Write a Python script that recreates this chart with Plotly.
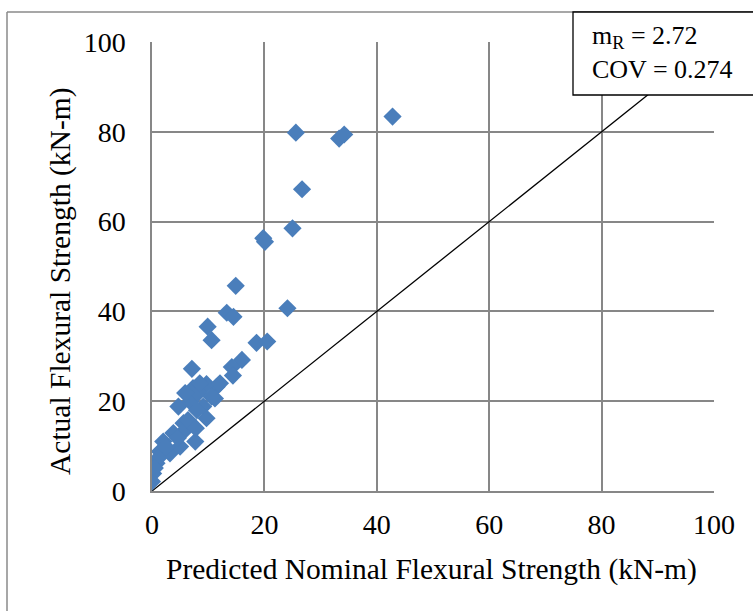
import plotly.graph_objects as go

# Predicted nominal vs. actual flexural strength (kN-m)
predicted = [42.8, 25.6, 33.3, 34.2, 26.7, 25.0, 19.8, 20.1, 14.9, 24.1,
             13.3, 14.5, 9.9, 10.6, 18.6, 20.5, 16.0, 14.2, 14.4, 7.1,
             11.5, 9.7, 7.3, 4.7, 6.8, 8.2, 9.1, 11.2, 9.7, 7.7,
             5.6, 3.8, 2.0, 1.4, 3.2, 0.8, 0.2, 0.0, 5.0, 5.9,
             8.5, 12.1, 10.6, 8.0, 5.9, 4.6, 2.5, 1.1, 0.5, 6.4, 7.8]
actual = [83.4, 79.8, 78.5, 79.4, 67.2, 58.5, 56.3, 55.5, 45.7, 40.7,
          39.7, 38.8, 36.6, 33.6, 33.0, 33.3, 29.2, 27.6, 25.7, 27.2,
          23.2, 23.8, 22.9, 18.8, 19.9, 21.8, 18.8, 20.6, 16.2, 11.0,
          15.1, 12.9, 11.0, 8.8, 8.4, 6.2, 3.9, 2.1, 9.9, 21.8,
          24.0, 24.0, 21.0, 18.0, 13.6, 11.8, 9.8, 7.3, 5.1, 15.8, 14.0]

# Line of equality
equality_x = [0, 100]
equality_y = [0, 100]

axis_ticks = [0, 20, 40, 60, 80, 100]
m_r = "2.72"
cov = "0.274"

serif = "Liberation Serif, Times New Roman, serif"
grid = "#878787"

fig = go.Figure()
fig.add_trace(go.Scatter(x=equality_x, y=equality_y, mode="lines",
                         line=dict(color="black", width=1.3),
                         hoverinfo="skip", showlegend=False))
fig.add_trace(go.Scatter(x=predicted, y=actual, mode="markers",
                         marker=dict(symbol="diamond", size=14, color="#4a7ebb",
                                     line=dict(width=0)),
                         showlegend=False))

axis_common = dict(range=[0, 100], tickvals=axis_ticks, showgrid=True,
                   gridcolor=grid, gridwidth=1.5, zeroline=False,
                   showline=True, linecolor=grid, linewidth=1.5,
                   tickfont=dict(family=serif, size=28, color="black"),
                   ticks="", fixedrange=True)
fig.update_xaxes(**axis_common, ticklabelstandoff=8, mirror=False)
fig.update_yaxes(**axis_common, ticklabelstandoff=19, mirror=False)

# Outer chart-area frame (left and top edges visible)
ox, oy = (7 - 152) / 562, (491 - 12) / 449
shapes = [
    dict(type="line", xref="paper", yref="paper", x0=ox, x1=ox, y0=oy, y1=-0.5,
         line=dict(color="#8a8a8a", width=1.5), layer="above"),
    dict(type="line", xref="paper", yref="paper", x0=ox, x1=1.2, y0=oy, y1=oy,
         line=dict(color="#8a8a8a", width=1.5), layer="above"),
    # statistics box
    dict(type="rect", xref="paper", yref="paper",
         x0=(573 - 152) / 562, x1=1.2, y0=(491 - 95) / 449, y1=oy,
         fillcolor="white", line=dict(color="black", width=1.3), layer="above"),
]

annotations = [
    dict(xref="paper", yref="paper", x=(590 - 152) / 562, y=(491 - 52) / 449,
         xanchor="left", yanchor="middle", align="left", showarrow=False,
         text=f"m<sub>R</sub> = {m_r}<br>COV = {cov}",
         font=dict(family=serif, size=26, color="black")),
    dict(xref="paper", yref="paper", x=(431 - 152) / 562, y=(491 - 569) / 449,
         xanchor="center", yanchor="middle", showarrow=False,
         text="Predicted Nominal Flexural Strength (kN-m)",
         font=dict(family=serif, size=29.5, color="black")),
    dict(xref="paper", yref="paper", x=(60 - 152) / 562, y=(491 - 281) / 449,
         xanchor="center", yanchor="middle", showarrow=False, textangle=-90,
         text="Actual Flexural Strength (kN-m)",
         font=dict(family=serif, size=29.5, color="black")),
]

fig.update_layout(width=753, height=611,
                  margin=dict(l=152, r=39, t=42, b=120),
                  paper_bgcolor="white", plot_bgcolor="white",
                  shapes=shapes, annotations=annotations)

fig.write_html("out.html")
